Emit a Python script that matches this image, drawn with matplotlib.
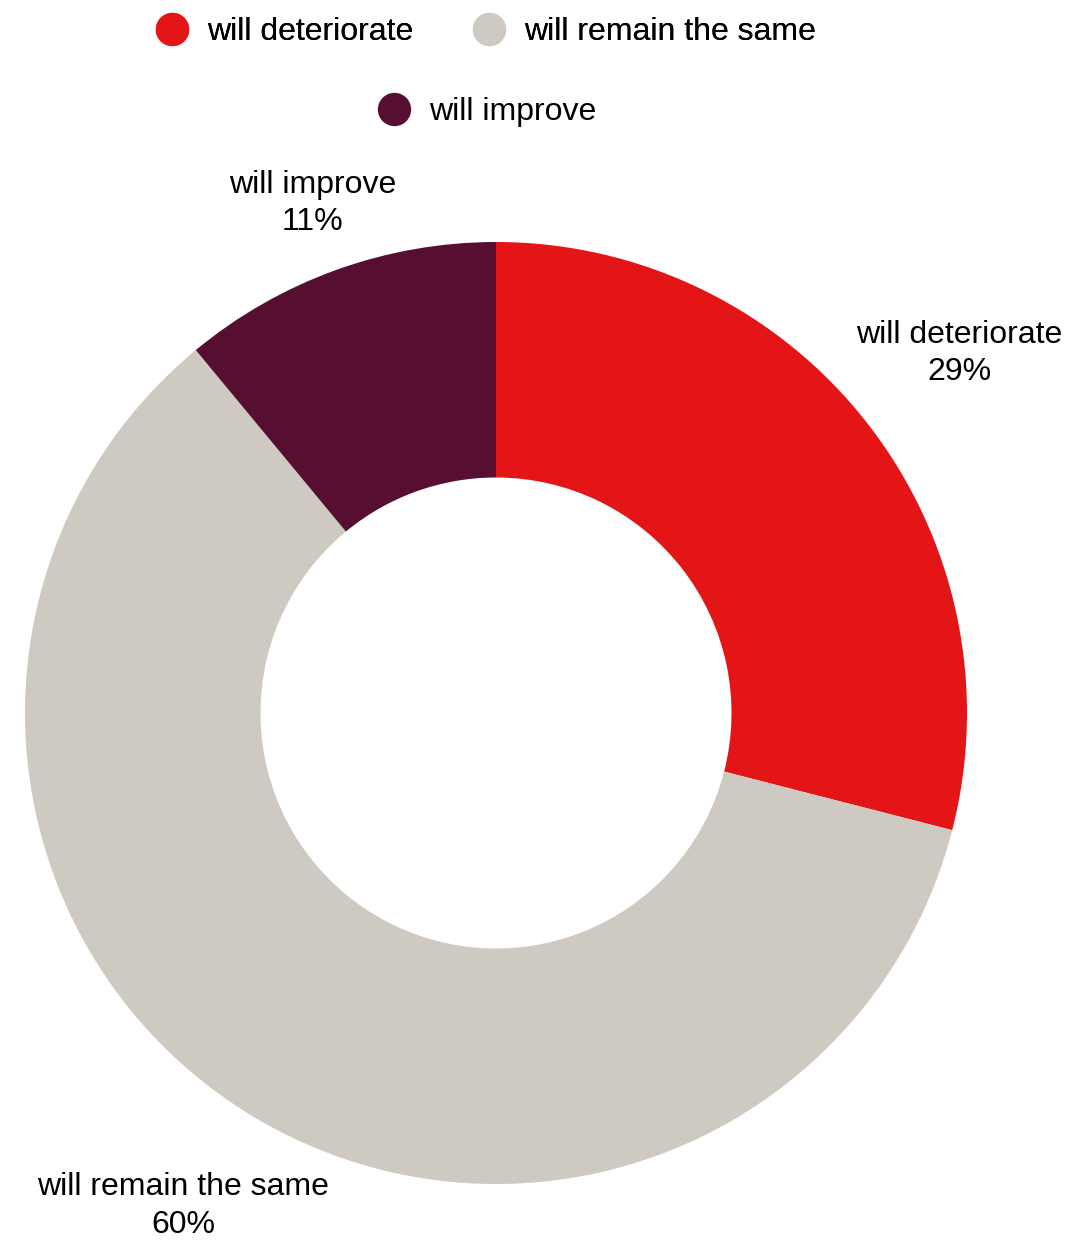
"""Donut chart of expectations: deteriorate / remain the same / improve."""
import numpy as np
import matplotlib.pyplot as plt
from matplotlib.lines import Line2D

plt.rcParams["font.family"] = ["Liberation Sans", "DejaVu Sans"]

categories = ["will deteriorate", "will remain the same", "will improve"]
shares = [29, 60, 11]
colors = ["#E31517", "#CEC9C1", "#560F30"]
label_dist = [1.245, 1.24, 1.15]


def main():
    fig = plt.figure(figsize=(10.69, 12.41), dpi=100)
    ax = fig.add_axes([25 / 1069, 57 / 1241, 942 / 1069, 942 / 1241])
    ax.set_aspect("equal")

    wedges, _ = ax.pie(
        shares, colors=colors, startangle=90, counterclock=False,
        radius=1.0, wedgeprops=dict(width=0.5, linewidth=0),
    )
    ax.set_xlim(-1, 1)
    ax.set_ylim(-1, 1)
    ax.axis("off")

    total = sum(shares)
    start = 90.0
    for name, val, dist in zip(categories, shares, label_dist):
        sweep = 360.0 * val / total
        mid = np.deg2rad(start - sweep / 2)
        start -= sweep
        ax.text(dist * np.cos(mid), dist * np.sin(mid), f"{name}\n{val}%",
                ha="center", va="center", fontsize=23, linespacing=1.32)

    handles = [Line2D([], [], marker="o", linestyle="", markersize=24,
                      markerfacecolor=c, markeredgewidth=0) for c in colors]
    leg1 = fig.legend(handles[:2], categories[:2], loc="center",
                      bbox_to_anchor=(486 / 1069, 1 - 32 / 1241), ncol=2,
                      frameon=False, fontsize=23, handletextpad=0.6,
                      columnspacing=1.85, handlelength=1.0)
    fig.add_artist(leg1)
    fig.legend(handles[2:], categories[2:], loc="center",
               bbox_to_anchor=(487 / 1069, 1 - 112 / 1241),
               frameon=False, fontsize=23, handletextpad=0.6,
               handlelength=1.0)

    fig.savefig("out.png", dpi=100)


if __name__ == "__main__":
    main()
